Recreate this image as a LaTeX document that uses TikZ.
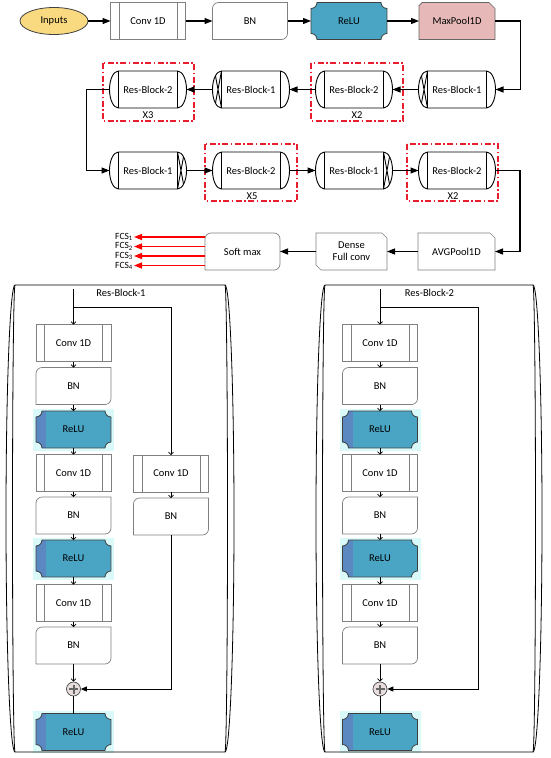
\documentclass[tikz,border=0pt]{standalone}
\usepackage{fontspec}
\setmainfont{Carlito}
\usetikzlibrary{positioning,arrows.meta,shapes.geometric,backgrounds}
\definecolor{InYellow}{RGB}{249,218,128}
\definecolor{ReluTeal}{RGB}{74,165,196}
\definecolor{ReluBlue}{RGB}{92,136,194}
\definecolor{GlowCyan}{RGB}{218,250,250}
\definecolor{PoolPink}{RGB}{230,185,184}
\definecolor{EdgeGray}{RGB}{128,128,128}
\definecolor{DashRed}{RGB}{232,30,45}
\definecolor{OutRed}{RGB}{255,0,0}
\definecolor{PlusFill}{RGB}{232,222,222}

\newcommand{\relupath}[1]{([xshift=6pt]#1.north west) -- ([xshift=-6pt]#1.north east)
  arc[start angle=180,end angle=270,radius=6pt] -- ([yshift=6pt]#1.south east)
  arc[start angle=90,end angle=180,radius=6pt] -- ([xshift=6pt]#1.south west)
  arc[start angle=0,end angle=90,radius=6pt] -- ([yshift=-6pt]#1.north west)
  arc[start angle=-90,end angle=0,radius=6pt] -- cycle}
\newcommand{\reluframe}[3]{%
  \begin{pgfonlayer}{background}
    \fill[#2] ([shift={(-3pt,-2.5pt)}]#1.south west) rectangle ([shift={(3pt,2.5pt)}]#1.north east);
    \begin{scope}
      \clip \relupath{#1};
      \fill[ReluTeal] (#1.south west) rectangle (#1.north east);
      \fill[#3] (#1.south west) rectangle ([xshift=10pt]#1.north west);
    \end{scope}
    \draw[reluedge] \relupath{#1};
  \end{pgfonlayer}}
\newcommand{\bnframe}[1]{%
  \draw[grayedge] (#1.south west) -- ([yshift=-6pt]#1.north west)
    arc[start angle=180,end angle=90,radius=6pt] -- (#1.north east)
    -- ([yshift=6pt]#1.south east) arc[start angle=0,end angle=-90,radius=6pt] -- cycle;}
\newcommand{\rbframe}[1]{%
  \draw[rbedge] ([xshift=9pt]#1.north west) -- ([xshift=-9pt]#1.north east)
    arc[start angle=90,end angle=-90,x radius=9pt,y radius=18.5pt]
    -- ([xshift=9pt]#1.south west)
    arc[start angle=270,end angle=90,x radius=9pt,y radius=18.5pt] -- cycle;
  \draw[rbedge] ([xshift=9pt]#1.north west) -- ([xshift=9pt]#1.south west)
    ([xshift=-9pt]#1.north east) -- ([xshift=-9pt]#1.south east);}
\newcommand{\rbcross}[3]{%
  \draw[rbedge] ([xshift=#3*9pt]#1.north #2) -- ([shift={(#3*3pt,5pt)}]#1.south #2)
    ([shift={(#3*3pt,-5pt)}]#1.north #2) -- ([xshift=#3*9pt]#1.south #2);}
\newcommand{\panelframe}[1]{%
  \draw[paneledge] (#1.north west) -- (#1.north east)
    arc[start angle=90,end angle=-90,x radius=9pt,y radius=233.5pt]
    -- (#1.south west)
    arc[start angle=270,end angle=90,x radius=9pt,y radius=233.5pt];
  \draw[paneledge] (#1.north east) arc[start angle=90,end angle=-90,x radius=2.5pt,y radius=233.5pt]
    (#1.south west) arc[start angle=270,end angle=90,x radius=2.5pt,y radius=233.5pt];}

\begin{document}
\begin{tikzpicture}[x=1pt, y=1pt, font=\fontsize{10.5}{12}\selectfont,
cell/.style={minimum width=75pt, minimum height=37pt, inner sep=0pt, outer sep=0pt},
conv/.style={cell, draw=EdgeGray, line width=0.7pt,
  path picture={\draw[EdgeGray, line width=0.7pt]
    ([xshift=8.5pt]path picture bounding box.south west) -- ([xshift=8.5pt]path picture bounding box.north west)
    ([xshift=-8.5pt]path picture bounding box.south east) -- ([xshift=-8.5pt]path picture bounding box.north east);}},
rb/.style={cell, minimum width=77pt},
grayedge/.style={draw=EdgeGray, line width=0.7pt},
reluedge/.style={draw=black!75, line width=0.8pt},
rbedge/.style={draw=black, line width=0.9pt},
paneledge/.style={draw=black, line width=0.8pt},
panelbox/.style={minimum height=467pt, inner sep=0pt, outer sep=0pt},
flow/.style={draw=black, line width=1.1pt, -{Triangle[length=8pt,width=6pt]}},
inarrow/.style={draw=black, line width=0.7pt, -{Straight Barb[length=2.5pt,width=5pt]}},
shortcut/.style={draw=black, line width=0.8pt, -{Triangle[length=6pt,width=5pt]}},
outflow/.style={draw=OutRed, line width=1.4pt, -{Triangle[length=8pt,width=6pt]}},
rep/.style={draw=DashRed, line width=1.2pt, dash pattern=on 6pt off 2.5pt on 1.5pt off 2.5pt},
addnode/.style={circle, draw=black!70, line width=0.7pt, fill=PlusFill, minimum size=14pt, inner sep=0pt,
  path picture={\draw[line width=2pt, black!60] (path picture bounding box.center) +(-4.5pt,0) -- +(4.5pt,0)
    (path picture bounding box.center) +(0,-4.5pt) -- +(0,4.5pt);}},
fcs/.style={anchor=east, inner sep=1pt, font=\fontsize{9.5}{10}\selectfont}]
\useasboundingbox (0,0) rectangle (550,-758);

\node[ellipse, draw=black!75, line width=0.8pt, fill=InYellow, minimum width=68pt, minimum height=27pt, inner sep=0pt] (inp) at (54,-21) {Inputs};
\node[conv] (conv) at (148,-21) {Conv 1D};
\node[cell] (bn) at (250,-21) {BN};
\node[cell, minimum width=76pt] (relu) at (349,-21) {ReLU};
\node[cell, minimum width=76pt] (maxp) at (457,-21) {MaxPool1D};
\bnframe{bn}
\reluframe{relu}{white}{ReluTeal}
\begin{pgfonlayer}{background}
\draw[draw=black!60, line width=0.7pt, fill=PoolPink] (maxp.south west) -- ([yshift=-3pt]maxp.north west) -- ([xshift=3pt]maxp.north west)
  -- ([xshift=-6pt]maxp.north east) -- ([yshift=-6pt]maxp.north east) -- (maxp.south east) -- cycle;
\end{pgfonlayer}
\draw[flow] (inp)--(conv); \draw[flow] (conv)--(bn); \draw[flow] (bn)--(relu); \draw[flow] (relu)--(maxp);

\node[rb] (r2a) at (148,-89.5) {Res-Block-2};
\node[rb] (r1a) at (251,-89.5) {Res-Block-1};
\node[rb] (r2b) at (354,-89.5) {Res-Block-2};
\node[rb] (r1b) at (457,-89.5) {Res-Block-1};
\rbframe{r2a} \rbframe{r1a} \rbframe{r2b} \rbframe{r1b}
\rbcross{r1a}{west}{1} \rbcross{r1b}{west}{1}
\draw[rep] (103,-63) rectangle (194,-121);
\draw[rep] (311,-63) rectangle (403,-121);
\node (x3) at (148,-115.5) {X3};
\node (x2a) at (357,-115.5) {X2};
\draw[flow] (maxp.east) -| ([xshift=25pt]r1b.east) -- (r1b.east);
\draw[flow] (r1b)--(r2b); \draw[flow] (r2b)--(r1a); \draw[flow] (r1a)--(r2a);

\node[rb] (r1c) at (148,-170.5) {Res-Block-1};
\node[rb] (r2c) at (251,-170.5) {Res-Block-2};
\node[rb] (r1d) at (354,-170.5) {Res-Block-1};
\node[rb] (r2d) at (457,-170.5) {Res-Block-2};
\rbframe{r1c} \rbframe{r2c} \rbframe{r1d} \rbframe{r2d}
\rbcross{r1c}{east}{-1} \rbcross{r1d}{east}{-1}
\draw[rep] (205,-144) rectangle (297,-201);
\draw[rep] (407,-144) rectangle (498,-201);
\node (x5) at (252,-196) {X5};
\node (x2b) at (453,-196) {X2};
\draw[flow] (r2a.west) -- ([xshift=-23pt]r2a.west) |- (r1c.west);
\draw[flow] (r1c)--(r2c); \draw[flow] (r2c)--(r1d); \draw[flow] (r1d)--(r2d);

\node[cell, minimum width=77pt] (avg) at (456.5,-251.5) {AVGPool1D};
\node[cell, minimum width=71pt, align=center] (dense) at (351.5,-251.5) {Dense\\Full conv};
\node[cell] (soft) at (242.5,-251.5) {Soft max};
\draw[grayedge] (avg.south west) -- (avg.north west) -- ([xshift=-5pt]avg.north east) -- ([yshift=-5pt]avg.north east) -- (avg.south east) -- cycle;
\draw[grayedge] ([yshift=5pt]dense.south west) -- (dense.north west) -- ([xshift=-5pt]dense.north east) -- ([yshift=-5pt]dense.north east)
  -- (dense.south east) -- ([xshift=5pt]dense.south west) -- cycle;
\draw[grayedge] (soft.south west) -- ([yshift=-6pt]soft.north west) arc[start angle=180,end angle=90,radius=6pt]
  -- ([xshift=-6pt]soft.north east) arc[start angle=90,end angle=0,radius=6pt]
  -- ([yshift=6pt]soft.south east) arc[start angle=0,end angle=-90,radius=6pt] -- cycle;
\draw[flow] (r2d.east) -| ([xshift=25pt]avg.east) -- (avg.east);
\draw[flow] (avg)--(dense); \draw[flow] (dense)--(soft);

\node[fcs] (fcs1) at (134,-237) {FCS\textsubscript{1}};
\node[fcs] (fcs2) at (134,-246.5) {FCS\textsubscript{2}};
\node[fcs] (fcs3) at (134,-256) {FCS\textsubscript{3}};
\node[fcs] (fcs4) at (134,-265.5) {FCS\textsubscript{4}};
\draw[outflow] (soft.west |- fcs1.east) -- (fcs1.east); \draw[outflow] (soft.west |- fcs2.east) -- (fcs2.east);
\draw[outflow] (soft.west |- fcs3.east) -- (fcs3.east); \draw[outflow] (soft.west |- fcs4.east) -- (fcs4.east);

\node[panelbox, minimum width=210pt] (pan1) at (120,-518.5) {};
\node[panelbox, minimum width=208pt] (pan2) at (429,-518.5) {};
\panelframe{pan1} \panelframe{pan2}
\node (t1) at (121,-293) {Res-Block-1};
\node (t2) at (429.5,-293) {Res-Block-2};

\coordinate (in1) at (73.5,-289);
\coordinate (j1) at (73.5,-307);
\node[conv] (c1) at (73.5,-343) {Conv 1D};
\node[cell] (b1) at (73.5,-386) {BN};
\node[cell] (a1) at (73.5,-429.5) {ReLU};
\node[conv] (c2) at (73.5,-473) {Conv 1D};
\node[cell] (b2) at (73.5,-515.5) {BN};
\node[cell] (a2) at (73.5,-558.5) {ReLU};
\node[conv] (c3) at (73.5,-603) {Conv 1D};
\node[cell] (b3) at (73.5,-645.5) {BN};
\node[addnode] (p1) at (73.5,-689) {};
\node[cell] (a3) at (73.5,-732) {ReLU};
\node[conv] (sc1) at (171,-473.5) {Conv 1D};
\node[cell] (sb1) at (171,-516.5) {BN};
\bnframe{b1} \bnframe{b2} \bnframe{b3} \bnframe{sb1}
\reluframe{a1}{GlowCyan}{ReluBlue} \reluframe{a2}{GlowCyan}{ReluBlue} \reluframe{a3}{GlowCyan}{ReluBlue}
\draw[inarrow] (in1)--(c1); \draw[inarrow] (j1) -| (sc1);
\draw[inarrow] (c1)--(b1); \draw[inarrow] (b1)--(a1); \draw[inarrow] (a1)--(c2); \draw[inarrow] (c2)--(b2);
\draw[inarrow] (b2)--(a2); \draw[inarrow] (a2)--(c3); \draw[inarrow] (c3)--(b3); \draw[inarrow] (b3)--(p1);
\draw[inarrow] (sc1)--(sb1);
\draw[shortcut] (sb1) |- (p1);
\draw[line width=0.8pt] (p1)--(a3);

\coordinate (in2) at (380,-289);
\coordinate (j2) at (380,-307);
\node[conv] (c4) at (380,-343) {Conv 1D};
\node[cell] (b4) at (380,-386) {BN};
\node[cell] (a4) at (380,-429.5) {ReLU};
\node[conv] (c5) at (380,-473) {Conv 1D};
\node[cell] (b5) at (380,-515.5) {BN};
\node[cell] (a5) at (380,-558.5) {ReLU};
\node[conv] (c6) at (380,-603) {Conv 1D};
\node[cell] (b6) at (380,-645.5) {BN};
\node[addnode] (p2) at (380,-689) {};
\node[cell] (a6) at (380,-732) {ReLU};
\bnframe{b4} \bnframe{b5} \bnframe{b6}
\reluframe{a4}{GlowCyan}{ReluBlue} \reluframe{a5}{GlowCyan}{ReluBlue} \reluframe{a6}{GlowCyan}{ReluBlue}
\draw[inarrow] (in2)--(c4);
\draw[inarrow] (c4)--(b4); \draw[inarrow] (b4)--(a4); \draw[inarrow] (a4)--(c5); \draw[inarrow] (c5)--(b5);
\draw[inarrow] (b5)--(a5); \draw[inarrow] (a5)--(c6); \draw[inarrow] (c6)--(b6); \draw[inarrow] (b6)--(p2);
\draw[shortcut] (j2) -| ([xshift=98pt]p2.center) -- (p2);
\draw[line width=0.8pt] (p2)--(a6);
\end{tikzpicture}
\end{document}
